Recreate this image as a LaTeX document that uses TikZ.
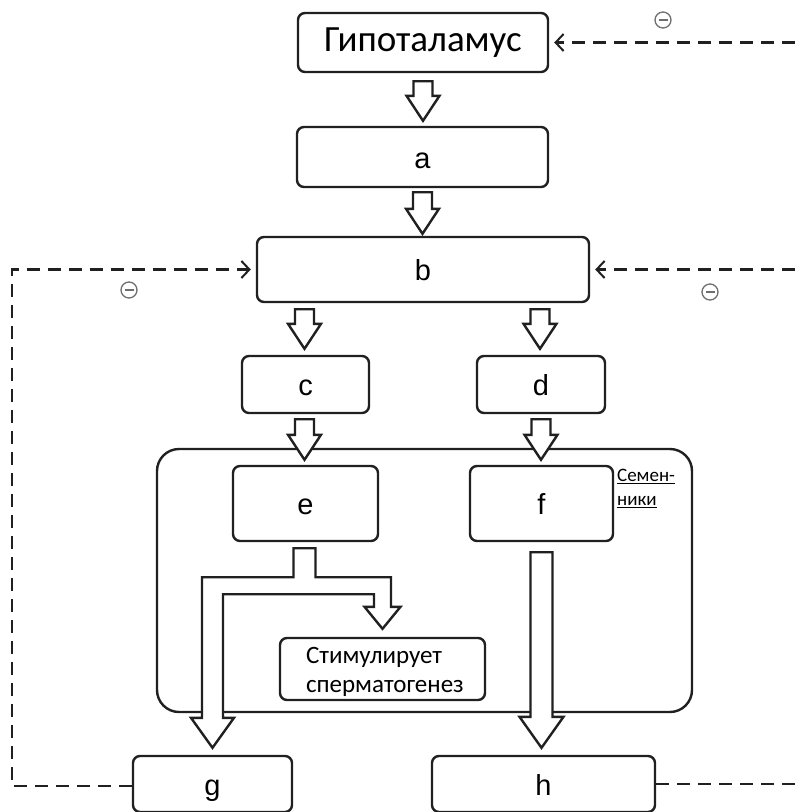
\documentclass[tikz,border=0pt]{standalone}
\usepackage{fontspec}
\setmainfont{Carlito}
\newfontfamily\letterfont{Liberation Sans}
\usetikzlibrary{arrows.meta,calc}

\definecolor{ink}{HTML}{202020}
\definecolor{minusgray}{HTML}{6E6E6E}

% underlined word with a firmer rule than \underline
\newcommand\lineunder[1]{\setbox0\hbox{#1}\rlap{\rule[-2.8pt]{\wd0}{1.3pt}}\box0}

\tikzset{
  box/.style={draw=ink, line width=2.4pt, rounded corners=7pt, fill=white, inner sep=0pt},
  lettertext/.style={font=\letterfont\fontsize{29}{31}\selectfont, text height=22pt, text depth=0pt},
  fb/.style={draw=ink, line width=2.4pt, dash pattern=on 13pt off 8pt, shorten >=5pt,
    -{Straight Barb[length=8pt,width=17pt,line width=2pt]}},
  fbline/.style={draw=ink, line width=2.4pt, dash pattern=on 13pt off 8pt},
  hollow/.style={draw=ink, line width=2.4pt, fill=white, line join=miter},
  minusmark/.style={circle, draw=minusgray, line width=1.3pt, minimum size=16pt, inner sep=0pt,
    path picture={\draw[minusgray, line width=2.8pt]
      ($(path picture bounding box.west)+(3.5pt,0)$) -- ($(path picture bounding box.east)+(-3.5pt,0)$);}},
}

% short hollow block arrow pointing down, from #1 to #2
\newcommand\smallarrow[2]{%
  \path[hollow] let \p1=(#1), \p2=(#2) in
    (\x1-9.5pt,\y1) -- (\x1+9.5pt,\y1) -- (\x1+9.5pt,\y2+25pt) -- (\x1+16.5pt,\y2+25pt)
    -- (\x1,\y2) -- (\x1-16.5pt,\y2+25pt) -- (\x1-9.5pt,\y2+25pt) -- cycle;}

\begin{document}
\begin{tikzpicture}[x=1pt,y=-1pt]
\useasboundingbox (0,0) rectangle (795,812);

% testes outline
\node[draw=ink, line width=2.4pt, rounded corners=22pt, minimum width=535pt, minimum height=263pt, inner sep=0pt]
  (testes) at (424.5,580.5) {};

% boxes
\node[box, minimum width=250pt, minimum height=59pt, font=\fontsize{37}{39}\selectfont] (hyp) at (423,42.5) {Гипоталамус};
\node[box, lettertext, minimum width=251pt, minimum height=60pt] (a) at (422.5,157) {a};
\node[box, lettertext, minimum width=332pt, minimum height=65pt] (b) at (423,269.5) {b};
\node[box, lettertext, minimum width=127pt, minimum height=57pt] (c) at (305.5,384.5) {c};
\node[box, lettertext, minimum width=128pt, minimum height=57pt] (d) at (541,384.5) {d};
\node[box, lettertext, minimum width=145pt, minimum height=75pt] (e) at (305.5,503.5) {e};
\node[box, lettertext, minimum width=143pt, minimum height=75pt] (f) at (541.5,503.5) {f};
\node[box, minimum width=205pt, minimum height=62pt] (stim) at (382.5,669) {};
\node[align=left, inner sep=0pt, anchor=west, font=\fontsize{25}{29}\selectfont]
  (stimtext) at ($(stim.west)+(27,3)$) {Стимулирует\\сперматогенез};
\node[box, lettertext, minimum width=159pt, minimum height=56pt] (g) at (212.5,784) {g};
\node[box, lettertext, minimum width=223pt, minimum height=56pt] (h) at (543.5,784) {h};

\node[anchor=north west, align=left, inner sep=0pt, font=\fontsize{19}{24}\selectfont]
  (testlabel) at (617,469) {\lineunder{Семен-}\\\lineunder{ники}};

% hollow arrows between levels
\smallarrow{$(hyp.south)+(0,8)$}{$(a.north)+(0,-5)$}
\smallarrow{$(a.south)+(0,4)$}{$(b.north)+(0,-2)$}
\smallarrow{$(b.south -| c.north)+(-1,6)$}{$(c.north)+(0,-6)$}
\smallarrow{$(b.south -| d.north)+(-1,6)$}{$(d.north)+(0,-6)$}
\smallarrow{$(c.south)+(-1,5)$}{$(e.north)+(0,-5)$}
\smallarrow{$(d.south)+(0,5)$}{$(f.north)+(0,-5)$}

% long arrow f -> h
\path[hollow] let \p1=($(f.south)+(0,10)$), \p2=($(h.north)+(0,-7)$) in
  (\x1-11pt,\y1) -- (\x1+11pt,\y1) -- (\x1+11pt,\y2+31pt) -- (\x1+22pt,\y2+31pt)
  -- (\x1,\y2) -- (\x1-22pt,\y2+31pt) -- (\x1-11pt,\y2+31pt) -- cycle;

% forked arrow e -> g and e -> spermatogenesis
\path[hollow] let \p1=(e.south), \p2=(g.north), \p3=(stim.north) in
  (\x1-12pt,\y1-6pt) -- (\x1-12pt,\y1-35pt) -- (\x2-10.5pt,\y1-35pt) -- (\x2-10.5pt,\y2+37pt)
  -- (\x2-21.5pt,\y2+37pt) -- (\x2,\y2+7pt) -- (\x2+21.5pt,\y2+37pt) -- (\x2+10.5pt,\y2+37pt)
  -- (\x2+10.5pt,\y1-52pt) -- (\x3-8.5pt,\y1-52pt) -- (\x3-8.5pt,\y3+30pt) -- (\x3-18pt,\y3+30pt)
  -- (\x3,\y3+8pt) -- (\x3+18pt,\y3+30pt) -- (\x3+8.5pt,\y3+30pt) -- (\x3+8.5pt,\y1-35pt)
  -- (\x1+10pt,\y1-35pt) -- (\x1+10pt,\y1-6pt) -- cycle;

% feedback lines
\coordinate (lcol) at (12,0);
\coordinate (rcol) at (795,0);
\draw[fb] ($(g.west)+(0,2)$) -- ($(g.west -| lcol)+(0,2)$) -- (b.west -| lcol) -- (b.west);
\draw[fb] (b.east -| rcol) -- (b.east);
\draw[fb] (hyp.east -| rcol) -- (hyp.east);
\draw[fbline] (h.east) -- (h.east -| rcol);

% inhibition marks
\node[minusmark] (m1) at (663,20) {};
\node[minusmark] (m2) at (129,290) {};
\node[minusmark] (m3) at (710,292) {};
\end{tikzpicture}
\end{document}
